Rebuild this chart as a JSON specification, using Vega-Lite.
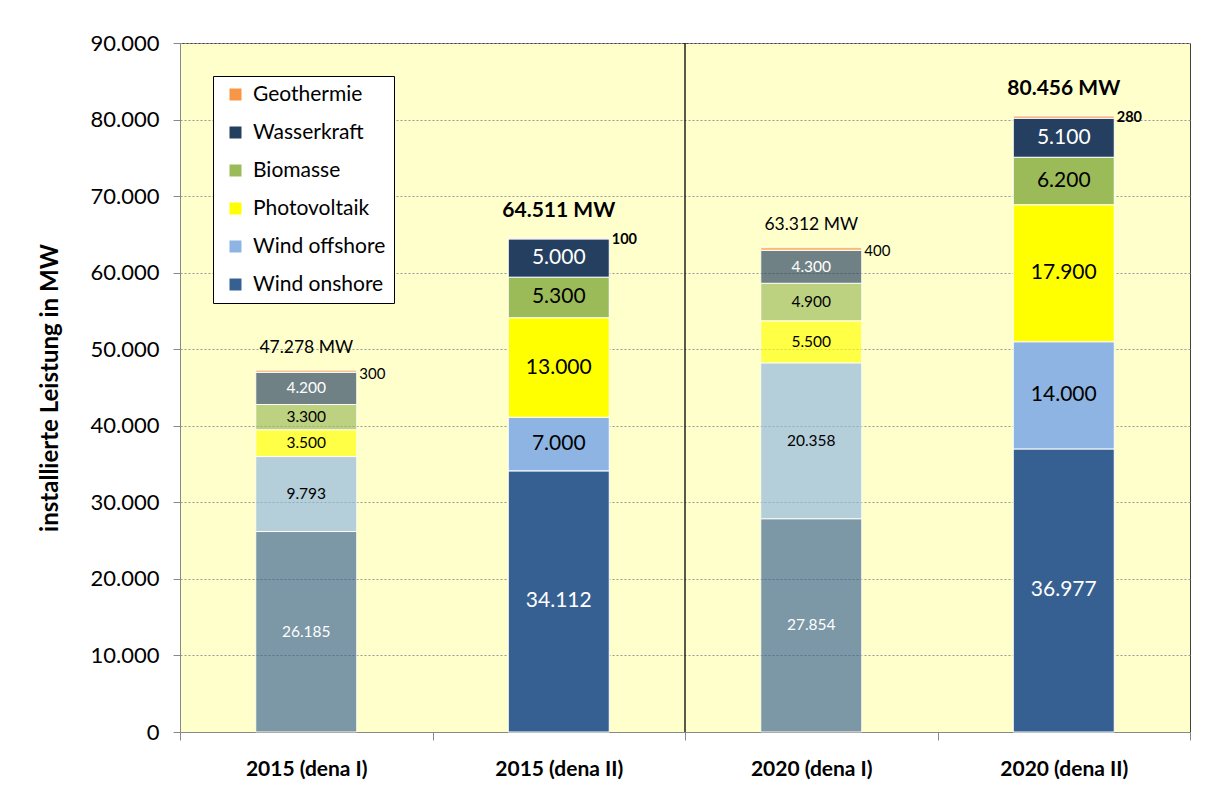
{
  "$schema": "https://vega.github.io/schema/vega-lite/v6.json",
  "width": 1010,
  "height": 689,
  "autosize": {"type": "none"},
  "padding": {"left": 180, "top": 43, "right": 15, "bottom": 53},
  "background": "white",
  "config": {
    "locale": {"number": {"decimal": ",", "thousands": ".", "grouping": [3], "currency": ["", " €"]}},
    "font": "Lato",
    "view": {"fill": "#FFFFCC", "stroke": "#404040", "strokeWidth": 1}
  },
  "datasets": {
    "segments": [
      {"scenario": "2015 (dena I)", "dena": "I", "series": "Wind onshore", "order": 1, "value": 26185},
      {"scenario": "2015 (dena I)", "dena": "I", "series": "Wind offshore", "order": 2, "value": 9793},
      {"scenario": "2015 (dena I)", "dena": "I", "series": "Photovoltaik", "order": 3, "value": 3500},
      {"scenario": "2015 (dena I)", "dena": "I", "series": "Biomasse", "order": 4, "value": 3300},
      {"scenario": "2015 (dena I)", "dena": "I", "series": "Wasserkraft", "order": 5, "value": 4200},
      {"scenario": "2015 (dena I)", "dena": "I", "series": "Geothermie", "order": 6, "value": 300},
      {"scenario": "2015 (dena II)", "dena": "II", "series": "Wind onshore", "order": 1, "value": 34112},
      {"scenario": "2015 (dena II)", "dena": "II", "series": "Wind offshore", "order": 2, "value": 7000},
      {"scenario": "2015 (dena II)", "dena": "II", "series": "Photovoltaik", "order": 3, "value": 13000},
      {"scenario": "2015 (dena II)", "dena": "II", "series": "Biomasse", "order": 4, "value": 5300},
      {"scenario": "2015 (dena II)", "dena": "II", "series": "Wasserkraft", "order": 5, "value": 5000},
      {"scenario": "2015 (dena II)", "dena": "II", "series": "Geothermie", "order": 6, "value": 100},
      {"scenario": "2020 (dena I)", "dena": "I", "series": "Wind onshore", "order": 1, "value": 27854},
      {"scenario": "2020 (dena I)", "dena": "I", "series": "Wind offshore", "order": 2, "value": 20358},
      {"scenario": "2020 (dena I)", "dena": "I", "series": "Photovoltaik", "order": 3, "value": 5500},
      {"scenario": "2020 (dena I)", "dena": "I", "series": "Biomasse", "order": 4, "value": 4900},
      {"scenario": "2020 (dena I)", "dena": "I", "series": "Wasserkraft", "order": 5, "value": 4300},
      {"scenario": "2020 (dena I)", "dena": "I", "series": "Geothermie", "order": 6, "value": 400},
      {"scenario": "2020 (dena II)", "dena": "II", "series": "Wind onshore", "order": 1, "value": 36977},
      {"scenario": "2020 (dena II)", "dena": "II", "series": "Wind offshore", "order": 2, "value": 14000},
      {"scenario": "2020 (dena II)", "dena": "II", "series": "Photovoltaik", "order": 3, "value": 17900},
      {"scenario": "2020 (dena II)", "dena": "II", "series": "Biomasse", "order": 4, "value": 6200},
      {"scenario": "2020 (dena II)", "dena": "II", "series": "Wasserkraft", "order": 5, "value": 5100},
      {"scenario": "2020 (dena II)", "dena": "II", "series": "Geothermie", "order": 6, "value": 280}
    ],
    "totals": [
      {"scenario": "2015 (dena I)", "dena": "I", "total": 47278, "label": "47.278 MW"},
      {"scenario": "2015 (dena II)", "dena": "II", "total": 64512, "label": "64.511 MW"},
      {"scenario": "2020 (dena I)", "dena": "I", "total": 63312, "label": "63.312 MW"},
      {"scenario": "2020 (dena II)", "dena": "II", "total": 80457, "label": "80.456 MW"}
    ]
  },
  "layer": [
    {
      "data": {"name": "segments"},
      "transform": [
        {"stack": "value", "groupby": ["scenario"], "sort": [{"field": "order", "order": "ascending"}], "as": ["v0", "v1"]}
      ],
      "mark": {"type": "bar", "stroke": "white", "strokeWidth": 1, "width": {"band": 0.4}},
      "encoding": {
        "x": {
          "field": "scenario", "type": "nominal",
          "scale": {"domain": ["2015 (dena I)", "2015 (dena II)", "2020 (dena I)", "2020 (dena II)"], "paddingInner": 0, "paddingOuter": 0},
          "axis": {"title": null, "tickBand": "extent", "tickSize": 8, "tickColor": "#888888", "domainColor": "#888888", "labelFontSize": 21, "labelFontWeight": "bold", "labelColor": "black", "labelPadding": 18, "labelAngle": 0, "grid": false}
        },
        "y": {
          "field": "v0", "type": "quantitative",
          "scale": {"domain": [0, 90000], "nice": false},
          "axis": {
            "title": "installierte Leistung in MW",
            "values": [0, 10000, 20000, 30000, 40000, 50000, 60000, 70000, 80000, 90000],
            "format": ",d", "labelFontSize": 22, "labelColor": "black", "tickSize": 7, "tickColor": "#888888", "domainColor": "#888888",
            "labelPadding": 14, "grid": true, "gridColor": "#999999", "gridDash": [2, 2],
            "titleFontSize": 24, "titleFontWeight": "bold", "titleColor": "black", "titlePadding": 28
          }
        },
        "y2": {"field": "v1"},
        "color": {
          "field": "series", "type": "nominal",
          "scale": {"domain": ["Geothermie", "Wasserkraft", "Biomasse", "Photovoltaik", "Wind offshore", "Wind onshore"], "range": ["#F79646", "#243F60", "#9BBB59", "#FFFF00", "#8DB4E2", "#376092"]},
          "legend": {"title": null, "orient": "none", "legendX": 33, "legendY": 33, "symbolType": "square", "symbolSize": 144, "symbolStrokeWidth": 0, "symbolOpacity": 1, "symbolOffset": 4, "labelFontSize": 21, "labelColor": "black", "rowPadding": 16, "padding": 8, "fillColor": "white", "strokeColor": "black", "labelOffset": 7}
        },
        "opacity": {"field": "dena", "type": "nominal", "scale": {"domain": ["I", "II"], "range": [0.65, 1]}, "legend": null}
      }
    },
    {
      "data": {"values": [{}]},
      "mark": {"type": "rule", "color": "black", "strokeWidth": 1.3, "opacity": 1},
      "encoding": {"x": {"datum": "2020 (dena I)", "type": "nominal", "bandPosition": 0}}
    },
    {
      "data": {"name": "segments"},
      "transform": [
        {"stack": "value", "groupby": ["scenario"], "sort": [{"field": "order", "order": "ascending"}], "as": ["v0", "v1"]},
        {"filter": "datum.series !== 'Geothermie' && datum.dena === 'I'"},
        {"calculate": "(datum.v0 + datum.v1) / 2", "as": "mid"}
      ],
      "mark": {"type": "text", "align": "center", "baseline": "middle", "fontSize": 15.5},
      "encoding": {
        "x": {"field": "scenario", "type": "nominal"},
        "y": {"field": "mid", "type": "quantitative"},
        "text": {"field": "value", "type": "quantitative", "format": ",d"},
        "color": {"condition": {"test": "datum.series === 'Wind onshore' || datum.series === 'Wasserkraft'", "value": "white"}, "value": "black"}
      }
    },
    {
      "data": {"name": "segments"},
      "transform": [
        {"stack": "value", "groupby": ["scenario"], "sort": [{"field": "order", "order": "ascending"}], "as": ["v0", "v1"]},
        {"filter": "datum.series !== 'Geothermie' && datum.dena === 'II'"},
        {"calculate": "(datum.v0 + datum.v1) / 2", "as": "mid"}
      ],
      "mark": {"type": "text", "align": "center", "baseline": "middle", "fontSize": 21},
      "encoding": {
        "x": {"field": "scenario", "type": "nominal"},
        "y": {"field": "mid", "type": "quantitative"},
        "text": {"field": "value", "type": "quantitative", "format": ",d"},
        "color": {"condition": {"test": "datum.series === 'Wind onshore' || datum.series === 'Wasserkraft'", "value": "white"}, "value": "black"}
      }
    },
    {
      "data": {"name": "segments"},
      "transform": [
        {"stack": "value", "groupby": ["scenario"], "sort": [{"field": "order", "order": "ascending"}], "as": ["v0", "v1"]},
        {"filter": "datum.series === 'Geothermie' && datum.dena === 'I'"}
      ],
      "mark": {"type": "text", "align": "left", "baseline": "middle", "fontSize": 15, "dx": 53, "dy": 4, "color": "black"},
      "encoding": {
        "x": {"field": "scenario", "type": "nominal"},
        "y": {"field": "v1", "type": "quantitative"},
        "text": {"field": "value", "type": "quantitative", "format": ",d"}
      }
    },
    {
      "data": {"name": "segments"},
      "transform": [
        {"stack": "value", "groupby": ["scenario"], "sort": [{"field": "order", "order": "ascending"}], "as": ["v0", "v1"]},
        {"filter": "datum.series === 'Geothermie' && datum.dena === 'II'"}
      ],
      "mark": {"type": "text", "align": "left", "baseline": "middle", "fontSize": 14.5, "fontWeight": "bold", "dx": 53, "dy": 2, "color": "black"},
      "encoding": {
        "x": {"field": "scenario", "type": "nominal"},
        "y": {"field": "v1", "type": "quantitative"},
        "text": {"field": "value", "type": "quantitative", "format": ",d"}
      }
    },
    {
      "data": {"name": "totals"},
      "transform": [{"filter": "datum.dena === 'I'"}],
      "mark": {"type": "text", "align": "center", "baseline": "middle", "fontSize": 17.5, "dy": -22, "color": "black"},
      "encoding": {
        "x": {"field": "scenario", "type": "nominal"},
        "y": {"field": "total", "type": "quantitative"},
        "text": {"field": "label", "type": "nominal"}
      }
    },
    {
      "data": {"name": "totals"},
      "transform": [{"filter": "datum.dena === 'II'"}],
      "mark": {"type": "text", "align": "center", "baseline": "middle", "fontSize": 21, "fontWeight": "bold", "dy": -27, "color": "black"},
      "encoding": {
        "x": {"field": "scenario", "type": "nominal"},
        "y": {"field": "total", "type": "quantitative"},
        "text": {"field": "label", "type": "nominal"}
      }
    }
  ]
}
